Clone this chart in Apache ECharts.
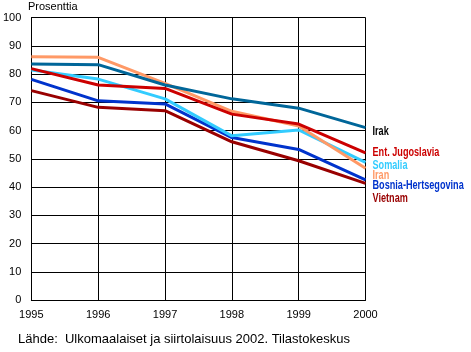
<!DOCTYPE html>
<html><head><meta charset="utf-8">
<script src="https://cdn.jsdelivr.net/npm/echarts@6/dist/echarts.min.js"></script>
<style>html,body{margin:0;padding:0;background:#fff}#c{width:471px;height:352px}</style>
</head><body><div id="c"></div>
<script>
const years = ['1995','1996','1997','1998','1999','2000'];
const yTicks = [0,10,20,30,40,50,60,70,80,90,100];
const irak = [83.5, 83.3, 76.1, 71.2, 67.9, 61.0];
const entJugoslavia = [81.9, 76.1, 74.9, 65.8, 62.3, 52.1];
const somalia = [81.4, 78.2, 71.2, 58.1, 60.2, 48.7];
const iran = [86.1, 85.9, 76.7, 66.8, 61.6, 46.6];
const bosnia = [78.1, 70.5, 69.4, 57.5, 53.3, 42.5];
const vietnam = [74.1, 68.2, 67.0, 56.0, 49.3, 41.3];

const seriesDefs = [
  {name:'Vietnam', data:vietnam, color:'#990000', label:'#990000', dy:15},
  {name:'Bosnia-Hertsegovina', data:bosnia, color:'#0033cc', label:'#0033cc', dy:5.5},
  {name:'Somalia', data:somalia, color:'#33ccff', label:'#33ccff', dy:3},
  {name:'Iran', data:iran, color:'#ff9966', label:'#ff9966', dy:7},
  {name:'Ent. Jugoslavia', data:entJugoslavia, color:'#cc0000', label:'#cc0000', dy:-0.5},
  {name:'Irak', data:irak, color:'#006699', label:'#000000', dy:4}
];

const chart = echarts.init(document.getElementById('c'), null, {renderer:'canvas'});
chart.setOption({
  animation:false,
  grid:{left:28, right:105.5, top:17.5, bottom:52, containLabel:false},
  xAxis:{type:'category', data:years, boundaryGap:false,
    axisLine:{lineStyle:{color:'#000', width:1}}, axisTick:{show:false},
    axisLabel:{color:'#000', fontFamily:'Liberation Sans, Arial', fontSize:11, margin:9},
    splitLine:{show:true, lineStyle:{color:'#000', width:1}}},
  yAxis:{type:'value', min:0, max:100, interval:10,
    axisLine:{show:true, lineStyle:{color:'#000', width:1}}, axisTick:{show:false},
    axisLabel:{color:'#000', fontFamily:'Liberation Sans, Arial', fontSize:11, margin:10,
      formatter:v=>yTicks.includes(v)?String(v):''},
    splitLine:{show:true, lineStyle:{color:'#000', width:1}}},
  series: seriesDefs.map(s=>({
    type:'line', name:s.name, data:s.data, symbol:'none',
    lineStyle:{color:s.color, width:3}, itemStyle:{color:s.color}
  }))
});

const last = years.length - 1;
const labelGraphics = seriesDefs.map(s=>{
  const p = chart.convertToPixel({gridIndex:0}, [years[last], s.data[last]]);
  return {type:'text', x:p[0]+7, y:p[1]+s.dy, scaleX:0.76,
    style:{text:s.name, fill:s.label, font:'bold 12px Liberation Sans, Arial', textVerticalAlign:'middle'}};
});
chart.setOption({graphic:[
  {type:'text', left:28, top:1, style:{text:'Prosenttia', fill:'#000', font:'11px Liberation Sans, Arial'}},
  {type:'text', left:18, top:333, style:{text:'Lähde:  Ulkomaalaiset ja siirtolaisuus 2002. Tilastokeskus', fill:'#000', font:'13px Liberation Sans, Arial'}}
].concat(labelGraphics)});
</script></body></html>
